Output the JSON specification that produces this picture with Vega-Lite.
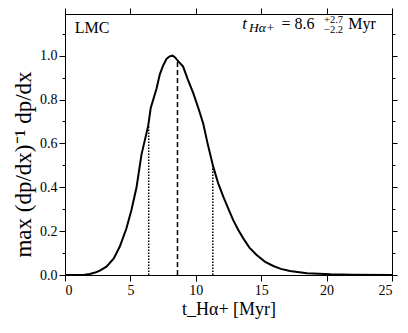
{
  "$schema": "https://vega.github.io/schema/vega-lite/v6.json",
  "width": 327,
  "height": 261,
  "autosize": {"type": "none"},
  "padding": {"left": 65, "top": 14, "right": 16, "bottom": 58},
  "background": "white",
  "config": {
    "font": "serif",
    "view": {"stroke": "black", "strokeWidth": 1},
    "text": {"font": "serif"},
    "axis": {
      "domainColor": "black",
      "tickColor": "black",
      "labelColor": "black",
      "titleColor": "black",
      "labelFont": "serif",
      "titleFont": "serif",
      "labelFontSize": 14,
      "titleFontSize": 18,
      "titleFontWeight": "normal",
      "grid": false,
      "tickWidth": 1
    }
  },
  "datasets": {
    "curve": [
      {"t": 0, "v": 0}, {"t": 1, "v": 0}, {"t": 1.5, "v": 0.001}, {"t": 1.9, "v": 0.005},
      {"t": 2.3, "v": 0.011}, {"t": 2.66, "v": 0.02}, {"t": 3.17, "v": 0.038}, {"t": 3.73, "v": 0.076},
      {"t": 4.19, "v": 0.13}, {"t": 4.7, "v": 0.213}, {"t": 5.08, "v": 0.296}, {"t": 5.47, "v": 0.4},
      {"t": 5.85, "v": 0.55}, {"t": 6.36, "v": 0.68}, {"t": 6.55, "v": 0.76}, {"t": 7.0, "v": 0.85},
      {"t": 7.25, "v": 0.915}, {"t": 7.5, "v": 0.955}, {"t": 7.76, "v": 0.985}, {"t": 8.0, "v": 0.997},
      {"t": 8.22, "v": 1.0}, {"t": 8.4, "v": 0.993}, {"t": 8.65, "v": 0.975}, {"t": 9.03, "v": 0.95},
      {"t": 9.4, "v": 0.89}, {"t": 9.8, "v": 0.83}, {"t": 10.2, "v": 0.76}, {"t": 10.57, "v": 0.69},
      {"t": 10.9, "v": 0.6}, {"t": 11.33, "v": 0.494}, {"t": 11.7, "v": 0.42}, {"t": 12.1, "v": 0.357},
      {"t": 12.5, "v": 0.3}, {"t": 12.86, "v": 0.25}, {"t": 13.25, "v": 0.205}, {"t": 13.63, "v": 0.167},
      {"t": 14.1, "v": 0.125}, {"t": 14.65, "v": 0.091}, {"t": 15.3, "v": 0.06}, {"t": 15.93, "v": 0.041},
      {"t": 16.5, "v": 0.028}, {"t": 17.2, "v": 0.018}, {"t": 18.5, "v": 0.008}, {"t": 20.3, "v": 0.003},
      {"t": 22, "v": 0.001}, {"t": 25, "v": 0}
    ],
    "rules": [
      {"t": 6.4, "base": 0, "top": 0.68, "kind": "lower"},
      {"t": 8.6, "base": 0, "top": 0.975, "kind": "median"},
      {"t": 11.3, "base": 0, "top": 0.5, "kind": "upper"}
    ],
    "bigNormal": [
      {"x": 16.55, "y": 1.122, "label": "= 8.6"},
      {"x": 21.65, "y": 1.122, "label": "Myr"},
      {"x": 0.74, "y": 1.103, "label": "LMC"}
    ],
    "bigItalic": [
      {"x": 13.55, "y": 1.122, "label": "t"}
    ],
    "smallItalic": [
      {"x": 14.07, "y": 1.106, "label": "Hα+"}
    ],
    "smallNormal": [
      {"x": 19.8, "y": 1.147, "label": "+2.7"},
      {"x": 19.8, "y": 1.104, "label": "−2.2"}
    ]
  },
  "layer": [
    {
      "data": {"name": "curve"},
      "mark": {"type": "line", "color": "black", "strokeWidth": 2},
      "encoding": {
        "x": {
          "field": "t", "type": "quantitative",
          "scale": {"domain": [0, 25], "nice": false, "zero": false},
          "axis": {
            "orient": "bottom", "values": [0, 5, 10, 15, 20, 25], "format": "d",
            "tickSize": 6, "labelPadding": 2, "title": "t_Hα+ [Myr]", "titlePadding": 3
          }
        },
        "y": {
          "field": "v", "type": "quantitative",
          "scale": {"domain": [0, 1.19], "nice": false, "zero": false},
          "axis": {
            "orient": "left",
            "values": [0, 0.1, 0.2, 0.3, 0.4, 0.5, 0.6, 0.7, 0.8, 0.9, 1.0, 1.1],
            "labelExpr": "round(datum.value*10)%2==0 && datum.value < 1.05 ? format(datum.value, '.1f') : ''",
            "tickSize": {"condition": {"test": "round(datum.value*10)%2==1", "value": 3}, "value": 6},
            "labelOverlap": false,
            "labelPadding": 2,
            "title": "max (dp/dx)⁻¹ dp/dx",
            "titleFontSize": 23,
            "titleY": 150,
            "titlePadding": 4
          }
        }
      }
    },
    {
      "data": {"name": "rules"},
      "mark": {"type": "rule", "color": "black", "strokeWidth": 1.5},
      "encoding": {
        "x": {
          "field": "t", "type": "quantitative",
          "scale": {"domain": [0, 25], "nice": false, "zero": false},
          "axis": {"orient": "top", "values": [0, 5, 10, 15, 20, 25], "labels": false, "tickSize": 6, "title": null}
        },
        "y": {
          "field": "base", "type": "quantitative",
          "scale": {"domain": [0, 1.19], "nice": false, "zero": false},
          "axis": {
            "orient": "right",
            "values": [0, 0.1, 0.2, 0.3, 0.4, 0.5, 0.6, 0.7, 0.8, 0.9, 1.0, 1.1],
            "labels": false,
            "tickSize": {"condition": {"test": "round(datum.value*10)%2==1", "value": 3}, "value": 5},
            "title": null
          }
        },
        "y2": {"field": "top"},
        "strokeDash": {
          "field": "kind", "type": "nominal",
          "scale": {"domain": ["lower", "median", "upper"], "range": [[1.5, 1.5], [5, 3], [1.5, 1.5]]},
          "legend": null
        }
      }
    },
    {
      "data": {"name": "bigNormal"},
      "mark": {"type": "text", "font": "serif", "fontSize": 16, "align": "left", "baseline": "alphabetic", "color": "black"},
      "encoding": {
        "x": {"field": "x", "type": "quantitative", "scale": {"domain": [0, 25], "nice": false, "zero": false}, "axis": null},
        "y": {"field": "y", "type": "quantitative", "scale": {"domain": [0, 1.19], "nice": false, "zero": false}, "axis": null},
        "text": {"field": "label"}
      }
    },
    {
      "data": {"name": "bigItalic"},
      "mark": {"type": "text", "font": "serif", "fontSize": 17, "fontStyle": "italic", "align": "left", "baseline": "alphabetic", "color": "black"},
      "encoding": {
        "x": {"field": "x", "type": "quantitative", "scale": {"domain": [0, 25], "nice": false, "zero": false}, "axis": null},
        "y": {"field": "y", "type": "quantitative", "scale": {"domain": [0, 1.19], "nice": false, "zero": false}, "axis": null},
        "text": {"field": "label"}
      }
    },
    {
      "data": {"name": "smallItalic"},
      "mark": {"type": "text", "font": "serif", "fontSize": 13.5, "fontStyle": "italic", "align": "left", "baseline": "alphabetic", "color": "black"},
      "encoding": {
        "x": {"field": "x", "type": "quantitative", "scale": {"domain": [0, 25], "nice": false, "zero": false}, "axis": null},
        "y": {"field": "y", "type": "quantitative", "scale": {"domain": [0, 1.19], "nice": false, "zero": false}, "axis": null},
        "text": {"field": "label"}
      }
    },
    {
      "data": {"name": "smallNormal"},
      "mark": {"type": "text", "font": "serif", "fontSize": 10.5, "align": "left", "baseline": "alphabetic", "color": "black"},
      "encoding": {
        "x": {"field": "x", "type": "quantitative", "scale": {"domain": [0, 25], "nice": false, "zero": false}, "axis": null},
        "y": {"field": "y", "type": "quantitative", "scale": {"domain": [0, 1.19], "nice": false, "zero": false}, "axis": null},
        "text": {"field": "label"}
      }
    }
  ],
  "resolve": {"axis": {"x": "independent", "y": "independent"}}
}
